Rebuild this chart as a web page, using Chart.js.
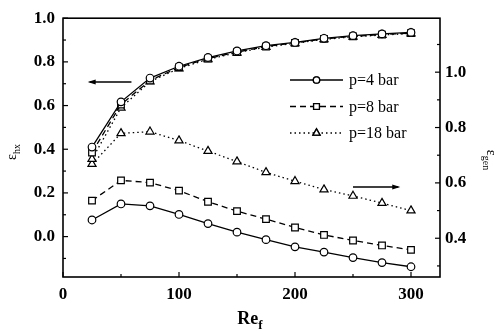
<!DOCTYPE html>
<html lang="en">
<head>
    <meta charset="UTF-8">
    <title>Effectiveness vs Re</title>
    <script src="https://cdn.jsdelivr.net/npm/chart.js"></script>
    <style>
        body { margin: 0; background: #fff; }
        canvas { display: block; }
    </style>
</head>
<body>
    <canvas id="chartCanvas" width="497" height="334"></canvas>

    <script>
        // Reynolds numbers along the x axis
        const reValues = [25, 50, 75, 100, 125, 150, 175, 200, 225, 250, 275, 300];

        // heat exchanger effectiveness (left axis)
        const hx4  = [0.41, 0.617, 0.726, 0.780, 0.820, 0.850, 0.874, 0.889, 0.908, 0.920, 0.928, 0.935];
        const hx8  = [0.385, 0.605, 0.715, 0.775, 0.815, 0.845, 0.870, 0.887, 0.905, 0.917, 0.925, 0.932];
        const hx18 = [0.355, 0.590, 0.710, 0.770, 0.812, 0.842, 0.868, 0.885, 0.903, 0.915, 0.923, 0.930];

        // generator efficiency (right axis)
        const gen4  = [0.466, 0.524, 0.517, 0.486, 0.453, 0.422, 0.395, 0.369, 0.350, 0.330, 0.312, 0.297];
        const gen8  = [0.536, 0.609, 0.601, 0.572, 0.532, 0.498, 0.469, 0.439, 0.412, 0.392, 0.374, 0.358];
        const gen18 = [0.668, 0.779, 0.785, 0.753, 0.715, 0.677, 0.638, 0.606, 0.576, 0.553, 0.527, 0.500];

        const legendLabels = ['p=4 bar', 'p=8 bar', 'p=18 bar'];

        // tick labels
        const xTicks = [0, 100, 200, 300];
        const xMinor = [50, 150, 250];
        const leftTicks = [0.0, 0.2, 0.4, 0.6, 0.8, 1.0];
        const leftMinor = [-0.1, 0.1, 0.3, 0.5, 0.7, 0.9];
        const rightTicks = [0.4, 0.6, 0.8, 1.0];
        const rightMinor = [0.3, 0.5, 0.7, 0.9, 1.1];

        // arrows pointing to the axis each group belongs to [x, y]
        const arrowLeft = [[59, 0.708], [23, 0.708]];
        const arrowRight = [[250, 0.585], [289, 0.585]];

        const serif = '"Liberation Serif", "DejaVu Serif", serif';

        function pts(ys) {
            return reValues.map((x, i) => ({ x: x, y: ys[i] }));
        }

        const styles = [
            { style: 'circle', r: 3.8, dash: [] },
            { style: 'rect', r: 4.7, dash: [6, 4] },
            { style: 'triangle', r: 4.7, dash: [1.5, 3] }
        ];

        function makeSet(label, ys, axis, k) {
            return {
                label: label,
                data: pts(ys),
                yAxisID: axis,
                borderColor: '#000',
                backgroundColor: '#fff',
                borderWidth: 1.3,
                borderDash: styles[k].dash,
                pointStyle: styles[k].style,
                pointRadius: styles[k].r,
                pointBorderWidth: 1.2,
                pointBackgroundColor: '#fff',
                pointBorderColor: '#000',
                tension: 0
            };
        }

        const datasets = [
            makeSet(legendLabels[0], hx4, 'yL', 0),
            makeSet(legendLabels[1], hx8, 'yL', 1),
            makeSet(legendLabels[2], hx18, 'yL', 2),
            makeSet(legendLabels[0], gen4, 'yR', 0),
            makeSet(legendLabels[1], gen8, 'yR', 1),
            makeSet(legendLabels[2], gen18, 'yR', 2)
        ];

        function fixTicks(list) {
            return function(s) { s.ticks = list.map(v => ({ value: v })); };
        }

        // frame, inward ticks, arrows, legend, axis titles
        const decor = {
            id: 'decor',
            afterDraw(chart) {
                const ctx = chart.ctx;
                const a = chart.chartArea;
                const sx = chart.scales.x, yl = chart.scales.yL, yr = chart.scales.yR;
                ctx.save();
                ctx.strokeStyle = '#000';
                ctx.fillStyle = '#000';
                ctx.lineWidth = 1.6;
                ctx.setLineDash([]);
                ctx.strokeRect(a.left, a.top, a.right - a.left, a.bottom - a.top);

                ctx.lineWidth = 1.2;
                const tick = (x1, y1, x2, y2) => {
                    ctx.beginPath(); ctx.moveTo(x1, y1); ctx.lineTo(x2, y2); ctx.stroke();
                };
                xTicks.forEach(v => { const p = sx.getPixelForValue(v); tick(p, a.bottom, p, a.bottom - 5); });
                xMinor.forEach(v => { const p = sx.getPixelForValue(v); tick(p, a.bottom, p, a.bottom - 3); });
                leftTicks.forEach(v => { const p = yl.getPixelForValue(v); tick(a.left, p, a.left + 5, p); });
                leftMinor.forEach(v => { const p = yl.getPixelForValue(v); tick(a.left, p, a.left + 3, p); });
                rightTicks.forEach(v => { const p = yr.getPixelForValue(v); tick(a.right, p, a.right - 5, p); });
                rightMinor.forEach(v => { const p = yr.getPixelForValue(v); tick(a.right, p, a.right - 3, p); });

                // arrows
                const arrow = (pair, ys) => {
                    const x1 = sx.getPixelForValue(pair[0][0]), x2 = sx.getPixelForValue(pair[1][0]);
                    const y = ys.getPixelForValue(pair[0][1]);
                    ctx.lineWidth = 1.4;
                    tick(x1, y, x2, y);
                    const d = x2 > x1 ? 1 : -1;
                    ctx.beginPath();
                    ctx.moveTo(x2 + d * 2, y);
                    ctx.lineTo(x2 - d * 6, y - 2.5);
                    ctx.lineTo(x2 - d * 6, y + 2.5);
                    ctx.closePath();
                    ctx.fill();
                };
                arrow(arrowLeft, yl);
                arrow(arrowRight, yr);

                // legend
                ctx.font = '16px ' + serif;
                ctx.textBaseline = 'middle';
                ctx.textAlign = 'left';
                for (let i = 0; i < 3; i++) {
                    const ds = chart.data.datasets[i];
                    const y = 80 + i * 26.5;
                    const x0 = 290, x1 = 343;
                    ctx.lineWidth = 1.3;
                    ctx.setLineDash(ds.borderDash);
                    tick(x0, y, x1, y);
                    ctx.setLineDash([]);
                    ctx.fillStyle = '#fff';
                    Chart.helpers.drawPoint(ctx, {
                        pointStyle: ds.pointStyle, radius: ds.pointRadius - 0.6,
                        borderWidth: 1.2, rotation: 0
                    }, (x0 + x1) / 2, y);
                    ctx.fill();
                    ctx.stroke();
                    ctx.fillStyle = '#000';
                    ctx.fillText(ds.label, x1 + 6, y + 1);
                }

                // axis titles with subscripts
                const title = (main, sub, x, y, rot, size, weight) => {
                    ctx.save();
                    ctx.translate(x, y);
                    ctx.rotate(rot);
                    ctx.textAlign = 'left';
                    ctx.textBaseline = 'alphabetic';
                    ctx.font = weight + ' ' + size + 'px ' + serif;
                    const w1 = ctx.measureText(main).width;
                    ctx.font = weight + ' ' + Math.round(size * 0.7) + 'px ' + serif;
                    const w2 = ctx.measureText(sub).width;
                    const start = -(w1 + w2) / 2;
                    ctx.font = weight + ' ' + size + 'px ' + serif;
                    ctx.fillText(main, start, 0);
                    ctx.font = weight + ' ' + Math.round(size * 0.7) + 'px ' + serif;
                    ctx.fillText(sub, start + w1, size * 0.28);
                    ctx.restore();
                };
                title('Re', 'f', 250, 324, 0, 18, 'bold');
                title('ε', 'hx', 16, 152, -Math.PI / 2, 14, 'normal');
                title('ε', 'gen', 487, 160, Math.PI / 2, 14, 'normal');
                ctx.restore();
            }
        };

        const tickFont = { family: serif, size: 17, weight: 'bold' };

        new Chart(document.getElementById('chartCanvas').getContext('2d'), {
            type: 'line',
            data: { datasets: datasets },
            options: {
                responsive: false,
                animation: false,
                devicePixelRatio: 1,
                layout: { padding: { top: 13, left: 0, right: 0, bottom: 0 } },
                plugins: { legend: { display: false }, tooltip: { enabled: false } },
                scales: {
                    x: {
                        type: 'linear', min: 0, max: 325,
                        afterBuildTicks: fixTicks(xTicks),
                        afterFit: s => { s.height = 57; },
                        grid: { display: false, drawTicks: false },
                        border: { display: false },
                        ticks: { color: '#000', font: tickFont, padding: 7, maxRotation: 0 }
                    },
                    yL: {
                        type: 'linear', position: 'left', min: -0.185, max: 1.0,
                        afterBuildTicks: fixTicks(leftTicks),
                        afterFit: s => { s.width = 63; },
                        grid: { display: false, drawTicks: false },
                        border: { display: false },
                        ticks: { color: '#000', font: tickFont, padding: 8, callback: v => v.toFixed(1) }
                    },
                    yR: {
                        type: 'linear', position: 'right', min: 0.26, max: 1.195,
                        afterBuildTicks: fixTicks(rightTicks),
                        afterFit: s => { s.width = 57; },
                        grid: { display: false, drawTicks: false },
                        border: { display: false },
                        ticks: { color: '#000', font: tickFont, padding: 5, callback: v => v.toFixed(1) }
                    }
                }
            },
            plugins: [decor]
        });
    </script>
</body>
</html>
